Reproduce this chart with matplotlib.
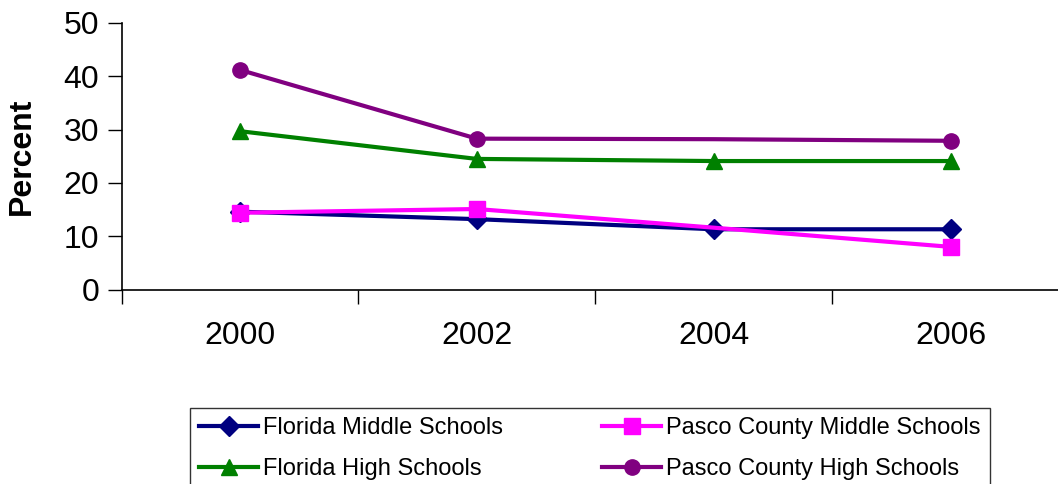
import matplotlib
matplotlib.use("Agg")
import matplotlib.pyplot as plt
from matplotlib.ticker import FixedLocator

plt.rcParams['font.family'] = ['Liberation Sans', 'DejaVu Sans']

years = ['2000', '2002', '2004', '2006']
fl_middle = [14.6, 13.2, 11.3, 11.3]
pasco_middle = [14.4, 15.1, 11.6, 8.0]
fl_high = [29.7, 24.5, 24.1, 24.1]
pasco_high = [41.2, 28.3, 28.2, 27.9]

W, H = 1058, 484
fig = plt.figure(figsize=(W / 100, H / 100), dpi=100)
left, right, top, bottom = 121.5, 1069, 23, 289.5
ax = fig.add_axes([left / W, 1 - bottom / H, (right - left) / W, (bottom - top) / H])

x = range(len(years))
lw = 3
ms = 11
l1, = ax.plot(x, fl_middle, color='#000080', lw=lw, marker='D', ms=ms - 1,
              label='Florida Middle Schools')
l2, = ax.plot(x, pasco_middle, color='#FF00FF', lw=lw, marker='s', ms=ms,
              markevery=[0, 1, 3], label='Pasco County Middle Schools')
l3, = ax.plot(x, fl_high, color='#008000', lw=lw, marker='^', ms=ms + 1,
              label='Florida High Schools')
l4, = ax.plot(x, pasco_high, color='#800080', lw=lw, marker='o', ms=ms,
              markevery=[0, 1, 3], label='Pasco County High Schools')

ax.set_xlim(-0.5, 3.5)
ax.set_ylim(0, 50)
ax.set_yticks([0, 10, 20, 30, 40, 50])
ax.set_xticks(list(x))
ax.set_xticklabels(years)
ax.xaxis.set_minor_locator(FixedLocator([-0.5, 0.5, 1.5, 2.5]))
ax.tick_params(axis='x', which='major', length=0, pad=23, labelsize=23)
ax.tick_params(axis='x', which='minor', length=10, width=1, direction='out')
ax.tick_params(axis='y', length=10, width=1, direction='out', labelsize=23, pad=6)
for s in ['top', 'right']:
    ax.spines[s].set_visible(False)
for s in ['left', 'bottom']:
    ax.spines[s].set_linewidth(1.2)
ax.set_ylabel('Percent', fontsize=23, fontweight='bold', labelpad=19)

fig.legend([l1, l3, l2, l4], [l.get_label() for l in (l1, l3, l2, l4)],
           loc='upper left', bbox_to_anchor=(190 / W, 1 - 408 / H), ncol=2,
           fontsize=17, frameon=True, fancybox=False, edgecolor='black',
           handlelength=2.5, handletextpad=0.2, columnspacing=4.2,
           borderpad=0.4, labelspacing=0.8, borderaxespad=0)

fig.savefig('out.png', dpi=100)
